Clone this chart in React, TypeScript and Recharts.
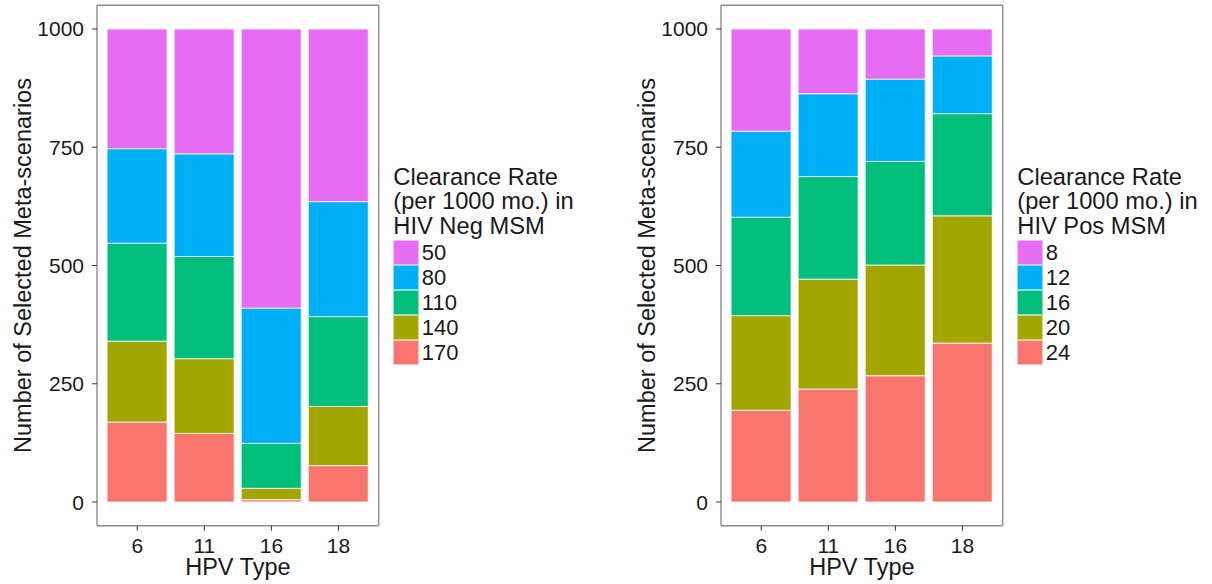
import React from "react"
import { Bar, BarChart, Legend, ReferenceLine, XAxis, YAxis } from "recharts"

// HPV types on the x axis
const hpvTypes = ["6", "11", "16", "18"]

// HIV-negative MSM: selected meta-scenarios per clearance rate (per 1000 mo.)
const neg170 = [169, 145, 5, 77]
const neg140 = [171, 158, 24, 125]
const neg110 = [207, 216, 95, 190]
const neg80 = [200, 217, 286, 243]
const neg50 = [253, 264, 590, 365]

// HIV-positive MSM
const pos24 = [194, 239, 267, 336]
const pos20 = [200, 232, 234, 269]
const pos16 = [208, 217, 219, 216]
const pos12 = [182, 175, 174, 122]
const pos8 = [216, 137, 106, 57]

const yTicks = [0, 250, 500, 750, 1000]
const negLabels = ["50", "80", "110", "140", "170"]
const posLabels = ["8", "12", "16", "20", "24"]

// ggplot default hue palette, first level first
const hue5 = ["#E76BF3", "#00B0F6", "#00BF7D", "#A3A500", "#F8766D"]

const FONT = '"Liberation Sans", Arial, Helvetica, sans-serif'
const INK = "#1a1a1a"
const FRAME = "#8c8c8c"
const Y_DOMAIN = [-50, 1050]

interface ISeries {
  key: string
  label: string
  color: string
}

function buildRows(cols: number[][], keys: string[]) {
  return hpvTypes.map((h, i) => {
    const row: Record<string, string | number> = { hpv: h }
    keys.forEach((k, j) => (row[k] = cols[j][i]))
    return row
  })
}

const negSeries: ISeries[] = negLabels.map((l, i) => ({ key: "r" + l, label: l, color: hue5[i] }))
const posSeries: ISeries[] = posLabels.map((l, i) => ({ key: "r" + l, label: l, color: hue5[i] }))

const negData = buildRows([neg50, neg80, neg110, neg140, neg170], negSeries.map((s) => s.key))
const posData = buildRows([pos8, pos12, pos16, pos20, pos24], posSeries.map((s) => s.key))

function YTitle(props: any) {
  const { viewBox, dx } = props
  const cx = viewBox.x + dx
  const cy = viewBox.y + viewBox.height / 2
  return (
    <text x={cx} y={cy} transform={`rotate(-90 ${cx} ${cy})`} textAnchor="middle"
      dominantBaseline="central" fontSize={23.5} fill={INK}>
      Number of Selected Meta-scenarios
    </text>
  )
}

function XTitle(props: any) {
  const { viewBox } = props
  return (
    <text x={viewBox.x + viewBox.width / 2} y={viewBox.y + 49.3} textAnchor="middle"
      fontSize={23.5} fill={INK}>
      HPV Type
    </text>
  )
}

function LegendBox(props: { title: string[]; items: ISeries[] }) {
  return (
    <div style={{ fontFamily: FONT, color: INK }}>
      {props.title.map((t) => (
        <div key={t} style={{ fontSize: 23.7, lineHeight: "24.5px", whiteSpace: "nowrap" }}>{t}</div>
      ))}
      <div style={{ marginTop: 2 }}>
        {props.items.map((it) => (
          <div key={it.key} style={{ display: "flex", alignItems: "center", height: 25 }}>
            <span style={{ width: 26, height: 25, boxSizing: "border-box", background: it.color,
              border: "1px solid rgba(255,255,255,0.55)" }} />
            <span style={{ marginLeft: 2.5, fontSize: 22 }}>{it.label}</span>
          </div>
        ))}
      </div>
    </div>
  )
}

function Panel(props: {
  data: any[]
  series: ISeries[]
  group: string
  axisWidth: number
  rightMargin: number
  titleX: number
  legendLeft: number
}) {
  // stack bottom-up: last factor level sits on the baseline
  const stack = [...props.series].reverse()
  return (
    <BarChart width={606} height={584} data={props.data} barCategoryGap="5%"
      margin={{ top: 5.3, right: props.rightMargin, bottom: 0, left: 0 }}>
      <XAxis xAxisId="x" dataKey="hpv" height={58.3} interval={0}
        padding={{ left: 6.7, right: 6.7 }} tickSize={5} tickMargin={7}
        tick={{ fill: INK, fontSize: 21 }} tickLine={{ stroke: "#333" }}
        axisLine={{ stroke: FRAME, strokeWidth: 1.4 }}
        label={(p: any) => <XTitle {...p} />} />
      <YAxis yAxisId="v" type="number" domain={Y_DOMAIN} ticks={yTicks}
        allowDataOverflow width={props.axisWidth} tickSize={5} tickMargin={8}
        tick={{ fill: INK, fontSize: 21 }} tickLine={{ stroke: "#333" }}
        axisLine={{ stroke: FRAME, strokeWidth: 1.4 }}
        label={(p: any) => <YTitle {...p} dx={props.titleX} />} />
      {/* right edge of the panel frame */}
      <YAxis yAxisId="edge" orientation="right" type="number" domain={Y_DOMAIN}
        width={1} tick={false} tickLine={false} axisLine={{ stroke: FRAME, strokeWidth: 1.4 }} />
      {stack.map((s) => (
        <Bar key={s.key} dataKey={s.key} name={s.label} stackId="cr" fill={s.color}
          stroke="#fff" strokeWidth={0.8} xAxisId="x" yAxisId="v" isAnimationActive={false} />
      ))}
      {/* top edge of the panel frame */}
      <ReferenceLine y={Y_DOMAIN[1]} xAxisId="x" yAxisId="v" stroke={FRAME} strokeWidth={1.4}
        ifOverflow="visible" />
      <Legend layout="horizontal" align="center" verticalAlign="middle"
        wrapperStyle={{ left: props.legendLeft, top: 164.5, width: "auto", height: "auto" }}
        content={() => (
          <LegendBox title={["Clearance Rate", "(per 1000 mo.) in", props.group]} items={props.series} />
        )} />
    </BarChart>
  )
}

export default function App() {
  return (
    <div style={{ position: "absolute", left: 0, top: 0, width: 1212, height: 584, background: "#fff",
      fontFamily: FONT }}>
      <div style={{ position: "absolute", left: 0, top: 0 }}>
        <Panel data={negData} series={negSeries} group="HIV Neg MSM" axisWidth={97}
          rightMargin={226.3} titleX={22.5} legendLeft={393.3} />
      </div>
      <div style={{ position: "absolute", left: 606, top: 0 }}>
        <Panel data={posData} series={posSeries} group="HIV Pos MSM" axisWidth={115}
          rightMargin={208.3} titleX={40.5} legendLeft={411.3} />
      </div>
    </div>
  )
}
